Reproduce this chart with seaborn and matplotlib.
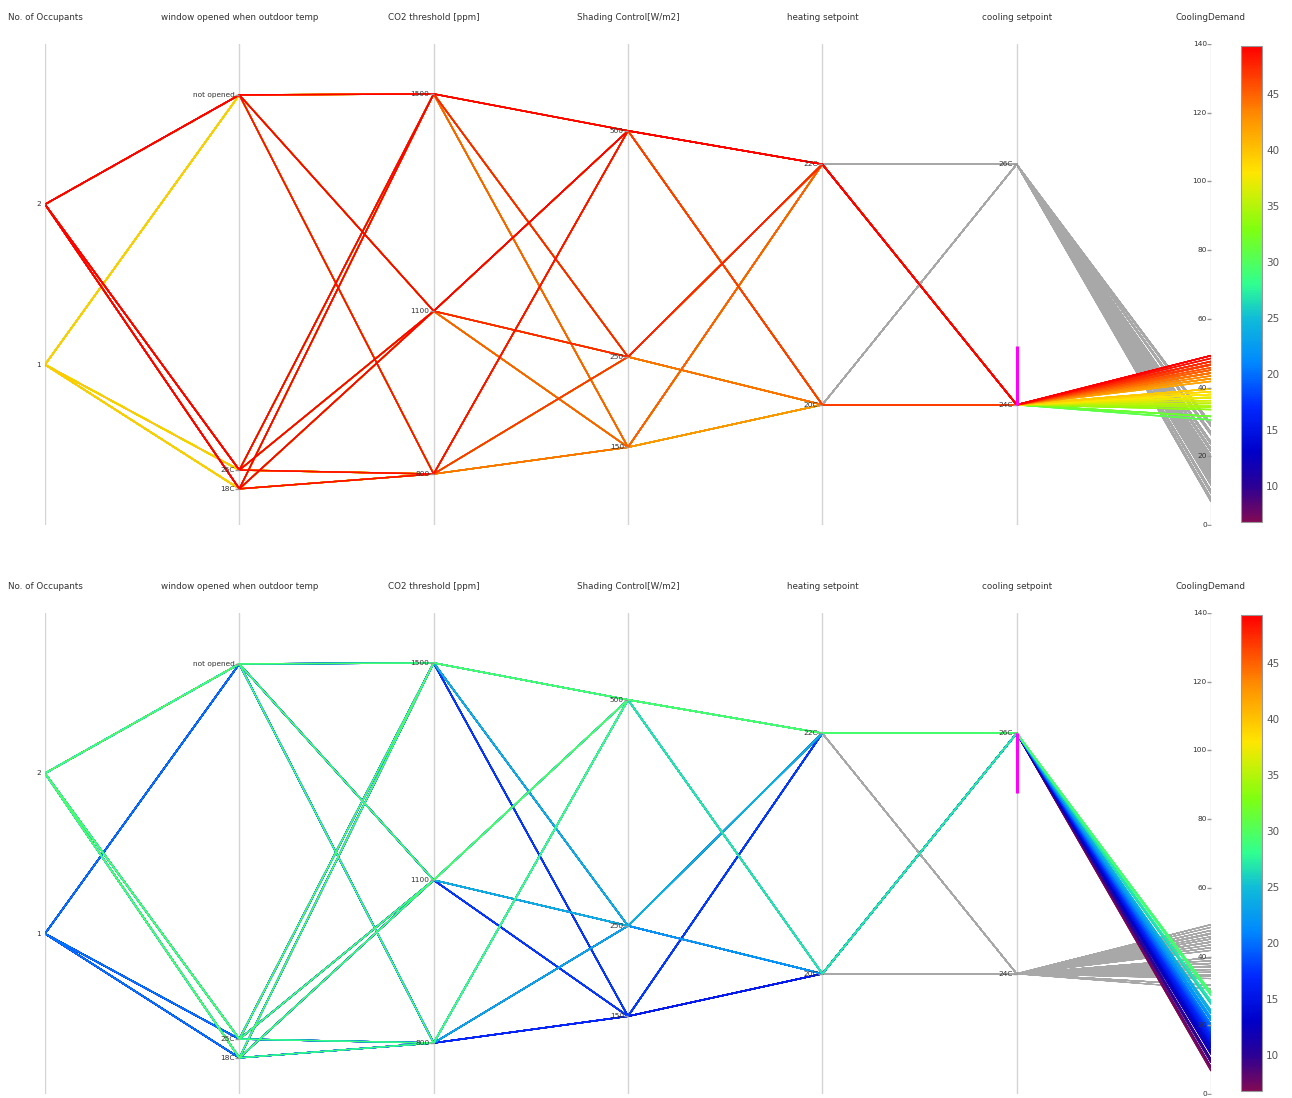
import numpy as np
import pandas as pd
import matplotlib
matplotlib.use("Agg")
import matplotlib.pyplot as plt
import seaborn as sns
from matplotlib.colors import LinearSegmentedColormap, Normalize
from matplotlib.cm import ScalarMappable

# axis titles
columns = ["No. of Occupants", "window opened when outdoor temp", "CO2 threshold [ppm]",
           "Shading Control[W/m2]", "heating setpoint", "cooling setpoint", "CoolingDemand"]

# parameter levels of the runs
occupants = [2, 1]
shading = [500, 250, 150]
heating = [22, 20]
window = ["not opened", "25C", "18C"]
co2 = [1500, 1100, 800]
cooling = [24, 26]

# CoolingDemand per run: one row per (occupants, shading, heating),
# one column per (window, co2)
demand_cool24 = [
    [49.3, 49.3, 48.5, 49.3, 49.3, 48.5, 49.3, 49.3, 48.5],
    [46.6, 46.6, 45.8, 46.6, 46.6, 45.8, 46.6, 46.6, 45.8],
    [47.6, 47.6, 46.8, 47.6, 47.6, 46.8, 47.6, 47.6, 46.8],
    [44.2, 44.2, 43.4, 44.2, 44.2, 43.4, 44.2, 44.2, 43.4],
    [45.1, 45.1, 44.3, 45.1, 45.1, 44.3, 45.1, 45.1, 44.3],
    [42.6, 42.6, 41.8, 42.6, 42.6, 41.8, 42.6, 42.6, 41.8],
    [39.6, 39.6, 38.8, 39.6, 39.6, 38.8, 39.6, 39.6, 38.8],
    [37.0, 37.0, 36.2, 37.0, 37.0, 36.2, 37.0, 37.0, 36.2],
    [38.0, 38.0, 37.2, 38.0, 38.0, 37.2, 38.0, 38.0, 37.2],
    [34.4, 34.4, 33.6, 34.4, 34.4, 33.6, 34.4, 34.4, 33.6],
    [35.4, 35.4, 34.6, 35.4, 35.4, 34.6, 35.4, 35.4, 34.6],
    [31.6, 31.6, 30.6, 31.6, 31.6, 30.6, 31.6, 31.6, 30.6],
]
demand_cool26 = [
    [29.5, 29.5, 28.7, 29.5, 29.5, 28.7, 29.5, 29.5, 28.7],
    [27.0, 27.0, 26.2, 27.0, 27.0, 26.2, 27.0, 27.0, 26.2],
    [24.2, 24.2, 23.4, 24.2, 24.2, 23.4, 24.2, 24.2, 23.4],
    [22.2, 22.2, 21.4, 22.2, 22.2, 21.4, 22.2, 22.2, 21.4],
    [17.8, 17.8, 17.0, 17.8, 17.8, 17.0, 17.8, 17.8, 17.0],
    [15.8, 15.8, 15.0, 15.8, 15.8, 15.0, 15.8, 15.8, 15.0],
    [20.2, 20.2, 19.4, 20.2, 20.2, 19.4, 20.2, 20.2, 19.4],
    [18.6, 18.6, 16.4, 18.6, 18.6, 16.4, 18.6, 18.6, 16.4],
    [14.2, 14.2, 13.4, 14.2, 14.2, 13.4, 14.2, 14.2, 13.4],
    [12.4, 12.4, 11.6, 12.4, 12.4, 11.6, 12.4, 12.4, 11.6],
    [10.0, 10.0, 9.2, 10.0, 10.0, 9.2, 10.0, 10.0, 9.2],
    [7.8, 7.8, 6.8, 7.8, 7.8, 6.8, 7.8, 7.8, 6.8],
]

window_codes = {"18C": 18, "25C": 25, "not opened": 165}

# axis scales (lo, hi)
axis_ranges = [(0, 3), (4.5, 184), (706, 1592), (64, 596), (19, 23), (23, 27), (0, 140)]
axis_ticks = [
    ([1, 2], ["1", "2"]),
    ([18, 25, 165], ["18C", "25C", "not opened"]),
    ([800, 1100, 1500], ["800", "1100", "1500"]),
    ([150, 250, 500], ["150", "250", "500"]),
    ([20, 22], ["20C", "22C"]),
    ([24, 26], ["24C", "26C"]),
    ([0, 20, 40, 60, 80, 100, 120, 140], ["0", "20", "40", "60", "80", "100", "120", "140"]),
]
brushes = {24: (24.0, 24.49), 26: (25.5, 26.0)}

records = []
for cool, grid in zip(cooling, [demand_cool24, demand_cool26]):
    r = 0
    for occ in occupants:
        for sh in shading:
            for ht in heating:
                c = 0
                for w in window:
                    for cc in co2:
                        records.append((occ, window_codes[w], cc, sh, ht, cool, grid[r][c]))
                        c += 1
                r += 1
vals = ["occ", "win", "co2", "shade", "heat", "cool", "demand"]
df = pd.DataFrame(records, columns=vals)
df["run"] = np.arange(len(df))

rows = []
for i, c in enumerate(vals):
    lo, hi = axis_ranges[i]
    part = df[["run", "cool", "demand"]].copy()
    part["axis"] = i
    part["y"] = (df[c] - lo) / (hi - lo)
    rows.append(part)
long = pd.concat(rows, ignore_index=True).sort_values(["run", "axis"])

cmap = LinearSegmentedColormap.from_list("cd", [
    (0.0, "#800a55"), (0.075, "#2a0096"), (0.146, "#0000c8"), (0.24, "#0028ff"),
    (0.334, "#0088ff"), (0.428, "#10bcd8"), (0.50, "#30ff90"), (0.616, "#80ff10"),
    (0.734, "#ffe600"), (0.852, "#ff9000"), (1.0, "#ff0000")])
norm = Normalize(vmin=df["demand"].min(), vmax=df["demand"].max())

sns.set_style("white")
plt.rcParams["font.family"] = ["DejaVu Sans"]
fig = plt.figure(figsize=(12.92, 10.98), dpi=100)

W, H = 1292, 1098
for cool, y_bottom_px in [(24, 525), (26, 1094)]:
    ax = fig.add_axes([45 / W, (H - y_bottom_px) / H, (1211 - 45) / W, 481 / H])

    for i in range(7):
        ax.plot([i, i], [0, 1], color="#d4d4d4", lw=1, zorder=1)
        ax.text(i, 1.056, columns[i], ha="center", va="center", fontsize=6.3, color="#333")
        lo, hi = axis_ranges[i]
        tv, tl = axis_ticks[i]
        for v, lab in zip(tv, tl):
            yy = (v - lo) / (hi - lo)
            ax.plot([i], [yy], marker=0, markersize=3, color="#999", zorder=5)
            ax.annotate(lab, (i, yy), xytext=(-3, 0), textcoords="offset points",
                        ha="right", va="center", fontsize=5.3, color="#333", zorder=6)

    mask = long["cool"] == cool
    # filtered-out runs: one path, so shared segments stay light grey
    grey = long[~mask]
    gx, gy = [], []
    for _, g in grey.groupby("run"):
        gx += list(g["axis"]) + [np.nan]
        gy += list(g["y"]) + [np.nan]
    ax.plot(gx, gy, color="#7a7a7a", alpha=0.65, lw=0.8, zorder=2)

    sns.lineplot(data=long[mask], x="axis", y="y", units="run", estimator=None,
                 hue="demand", palette=cmap, hue_norm=norm, legend=False,
                 alpha=1.0, lw=1.0, sort=False, ax=ax, zorder=3)
    ax.set_xlim(0, 6)
    ax.set_ylim(0, 1)
    ax.axis("off")

    lo, hi = axis_ranges[5]
    b0, b1 = brushes[cool]
    ax.plot([5, 5], [(b0 - lo) / (hi - lo), (b1 - lo) / (hi - lo)], color="#ff00ff",
            lw=2.2, solid_capstyle="butt", zorder=7)

    cax = fig.add_axes([1241 / W, (H - (y_bottom_px - 3)) / H, 21 / W, 476 / H])
    cb = fig.colorbar(ScalarMappable(norm=norm, cmap=cmap), cax=cax)
    cb.set_ticks([10, 15, 20, 25, 30, 35, 40, 45])
    cb.outline.set_edgecolor("#999999")
    cb.outline.set_linewidth(0.8)
    cax.tick_params(length=0, labelsize=7.5, colors="#555555", pad=3)

fig.savefig("out.png", dpi=100, facecolor="white")
